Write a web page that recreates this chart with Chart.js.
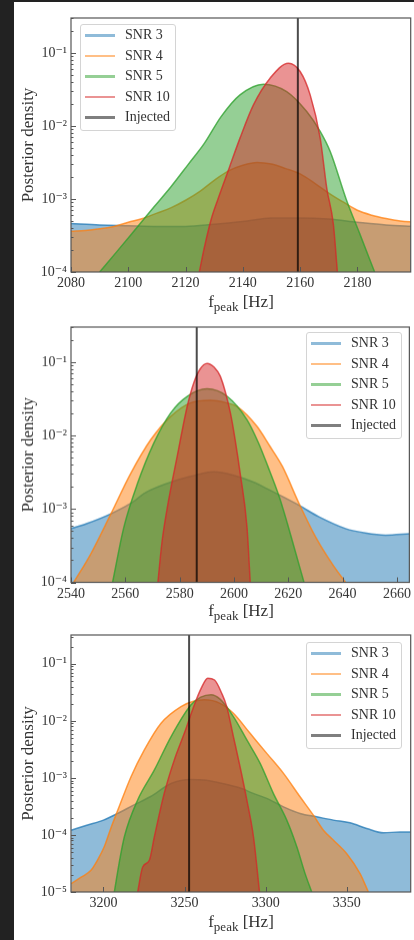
<!DOCTYPE html>
<html>
<head>
<meta charset="utf-8">
<script src="https://cdn.jsdelivr.net/npm/chart.js@4.4.1/dist/chart.umd.min.js"></script>
<style>
    body { margin: 0; width: 414px; height: 940px; overflow: hidden; background: #222; position: relative;
           font-family: 'Liberation Serif', 'DejaVu Serif', serif; }
    #fig { position: absolute; left: 14px; top: 2px; width: 400px; height: 938px; background: #fff; }
    .panel { position: absolute; left: 0; width: 400px; }
    .legend { position: absolute; width: 96px; height: 107px; border: 1px solid #d4d4d4; border-radius: 3px;
              background: rgba(255,255,255,0.8); box-sizing: border-box; }
    .legend .row { position: absolute; left: 0; height: 20px; line-height: 20px; font-size: 14px; color: #333; white-space: nowrap; }
    .legend .row i { position: absolute; left: 4px; top: 9px; width: 30px; height: 2.5px; }
    .legend .row span { position: absolute; left: 44px; }
    .xlabel { position: absolute; left: 57px; width: 340px; height: 20px; line-height: 20px; text-align: center;
              font-size: 17px; color: #333; }
    .xlabel sub { font-size: 13px; vertical-align: -4px; line-height: 0; }
</style>
</head>
<body>
<div id="fig"></div>
<script>
// ---- Datos: densidad posterior de f_peak para cada SNR ([Hz, densidad]) ----

// Panel 1
const p1Snr3 = [[2080,4.6e-4],[2090,4.4e-4],[2100,4.3e-4],[2110,4.2e-4],[2120,4.2e-4],[2130,4.5e-4],[2140,4.9e-4],
    [2150,5.5e-4],[2160,5.5e-4],[2170,5.3e-4],[2180,4.8e-4],[2190,4.4e-4],[2200,4.2e-4]];
const p1Snr4 = [[2080,3.6e-4],[2085,3.7e-4],[2090,3.9e-4],[2095,4.2e-4],[2100,4.8e-4],[2105,5.4e-4],[2110,6.4e-4],
    [2115,7.6e-4],[2120,9.6e-4],[2125,1.27e-3],[2130,1.8e-3],[2135,2.42e-3],[2140,2.89e-3],[2145,3.15e-3],
    [2150,3.0e-3],[2155,2.6e-3],[2160,2.2e-3],[2165,1.65e-3],[2170,1.2e-3],[2175,9.1e-4],[2180,7.0e-4],
    [2185,6.0e-4],[2190,5.4e-4],[2195,5.0e-4],[2200,4.8e-4]];
const p1Snr5 = [[2090,1e-4],[2096,1.9e-4],[2103.3,4.2e-4],[2109,7.8e-4],[2114.9,1.47e-3],[2121,3.0e-3],[2126.6,5.8e-3],
    [2132.4,1.34e-2],[2139,2.66e-2],[2147.2,3.73e-2],[2155.3,2.95e-2],[2162.3,1.57e-2],[2167,8.4e-3],
    [2170.5,4.45e-3],[2176.2,9.6e-4],[2180.8,3.35e-4],[2186,1e-4]];
const p1Snr10 = [[2124.8,1e-4],[2126.6,2.2e-4],[2128.9,5.2e-4],[2131.2,9.7e-4],[2135.3,2.7e-3],[2139,6.8e-3],
    [2143.7,1.94e-2],[2149.5,4.5e-2],[2155.9,7.2e-2],[2160,5.55e-2],[2163.5,2.66e-2],[2167,6.8e-3],
    [2169.3,1.4e-3],[2171.6,4.5e-4],[2173,1e-4]];
const p1Injected = 2159.2;
const p1XRange = [2080, 2198.6];
const p1YRange = [1e-4, 0.3];

// Panel 2
const p2Snr3 = [[2540,5.4e-4],[2545.7,6.3e-4],[2554.7,8.6e-4],[2562.9,1.25e-3],[2566.9,1.63e-3],[2579.1,2.47e-3],
    [2586.1,2.9e-3],[2592.5,3.2e-3],[2599.5,2.9e-3],[2606.9,2.34e-3],[2613.3,1.8e-3],[2624,1.12e-3],
    [2631.3,7.8e-4],[2641.1,5.4e-4],[2648.4,4.7e-4],[2655.8,4.4e-4],[2664.6,4.6e-4]];
const p2Snr4 = [[2541,1e-4],[2547.3,2.45e-4],[2554.7,8.6e-4],[2562,3.05e-3],[2569.3,8.7e-3],[2576.7,1.82e-2],
    [2584,2.78e-2],[2591.3,3.01e-2],[2597,2.8e-2],[2601.1,2.49e-2],[2608.5,1.33e-2],[2613.3,7.1e-3],
    [2617.9,3.76e-3],[2624,1.18e-3],[2630.1,4.13e-4],[2636.2,1.78e-4],[2641.1,1e-4]];
const p2Snr5 = [[2555.3,1e-4],[2559.5,5.7e-4],[2564.5,2.23e-3],[2570.5,7.9e-3],[2576.7,2.03e-2],[2582.8,3.42e-2],
    [2590.1,4.32e-2],[2597.5,3.42e-2],[2604.8,1.64e-2],[2609,8.0e-3],[2612.5,3.8e-3],[2616.7,1.46e-3],
    [2619.7,6.3e-4],[2622.5,2.72e-4],[2625.8,1e-4]];
const p2Snr10 = [[2572,1e-4],[2573.5,3.5e-4],[2575.5,1.06e-3],[2579.1,5.2e-3],[2582.8,2.5e-2],[2585.2,5.2e-2],
    [2587.5,8.0e-2],[2590.1,9.6e-2],[2592.7,8.5e-2],[2595,6.4e-2],[2598.7,2.03e-2],[2600.5,8.5e-3],
    [2602.3,3.05e-3],[2604.8,5.7e-4],[2606,1e-4]];
const p2Injected = 2586.3;
const p2XRange = [2540, 2664.6];
const p2YRange = [1e-4, 0.3];

// Panel 3
const p3Snr3 = [[3180.1,1.21e-4],[3189.7,1.48e-4],[3200,1.82e-4],[3208.8,2.39e-4],[3218.5,3.33e-4],[3228.8,4.67e-4],
    [3241.7,8.0e-4],[3254,9.4e-4],[3262,9.2e-4],[3270,8.4e-4],[3284.8,6.6e-4],[3292,5.4e-4],
    [3300.7,4.37e-4],[3311,3.11e-4],[3321.2,2.38e-4],[3331.5,2.08e-4],[3341.8,1.82e-4],[3352,1.63e-4],
    [3362.3,1.3e-4],[3372.6,1.09e-4],[3382.9,1.13e-4],[3389.4,1.13e-4]];
const p3Snr4 = [[3180.1,1.4e-5],[3186,1.8e-5],[3192.3,2.4e-5],[3196.5,3.7e-5],[3200.5,6.2e-5],[3204.5,1.3e-4],
    [3208.8,2.7e-4],[3217,1.05e-3],[3225.2,3.1e-3],[3235.5,9.1e-3],[3247.8,1.78e-2],[3255.5,2.2e-2],
    [3262.2,2.34e-2],[3271.9,2.03e-2],[3280.1,1.36e-2],[3290.4,6.05e-3],[3300.7,2.69e-3],[3311,1.2e-3],
    [3321.2,4.67e-4],[3329.4,2.22e-4],[3335.6,1.21e-4],[3341.8,8.1e-5],[3350,4.7e-5],[3358.2,2.1e-5],[3363.3,1e-5]];
const p3Snr5 = [[3206.7,1e-5],[3209.5,3e-5],[3212.9,9.3e-5],[3221.1,4.1e-4],[3231.4,1.38e-3],[3241.7,5.3e-3],
    [3254,1.91e-2],[3260,2.6e-2],[3266.3,2.87e-2],[3271.9,2.4e-2],[3280.1,1.19e-2],[3288.4,4.62e-3],
    [3296.6,1.8e-3],[3304.8,5.3e-4],[3313,1.82e-4],[3319.2,6.2e-5],[3324.3,2.1e-5],[3328.4,1e-5]];
const p3Snr10 = [[3221.1,1e-5],[3224.2,2.75e-5],[3228.3,3.6e-5],[3231.4,9.3e-5],[3237.5,5.4e-4],[3243.7,2.07e-3],
    [3249.9,6.1e-3],[3256,1.9e-2],[3260,3.6e-2],[3264.3,5.6e-2],[3268.5,5.2e-2],[3272.9,3.05e-2],
    [3276,1.78e-2],[3280.1,5.3e-3],[3284.2,1.57e-3],[3288.4,4.08e-4],[3292.5,9.2e-5],[3296.2,1e-5]];
const p3Injected = 3252.8;
const p3XRange = [3180, 3389.4];
const p3YRange = [1e-5, 0.32];

const xSteps = [20, 20, 50];
const snrLabels = ['SNR 3', 'SNR 4', 'SNR 5', 'SNR 10'];
const injectedLabel = 'Injected';

// ---- Estilo y maquetación ----
const snrColors = [[31,119,180], [255,127,14], [44,160,44], [214,39,40]];
const panelTops = [0, 309, 617];          // dentro de #fig
const plotHeights = [254, 254.5, 257];
const legendPos = [[66, 22], [292, 330], [292, 640]];
const PAD_TOP = 16, Y_AXIS_W = 57, X_AXIS_H = 40, PAD_RIGHT = 3.3;

const rgba = (c, a) => `rgba(${c[0]},${c[1]},${c[2]},${a})`;
const SUP = {'-': '⁻', '0': '⁰', '1': '¹', '2': '²', '3': '³', '4': '⁴', '5': '⁵', '6': '⁶', '7': '⁷', '8': '⁸', '9': '⁹'};

function potencia(v) {
    const e = Math.log10(v);
    return Math.abs(e - Math.round(e)) < 1e-6 ? Math.round(e) : null;
}

function mantisaEntera(v) {
    const m = v / Math.pow(10, Math.floor(Math.log10(v) + 1e-9));
    return Math.abs(m - Math.round(m)) < 0.01;
}

Chart.defaults.font.family = "'Liberation Serif', 'DejaVu Serif', serif";
Chart.defaults.color = '#333';

// Marco y ticks hacia dentro, estilo matplotlib
const marcoTicks = {
    id: 'marcoTicks',
    afterDraw(chart) {
        const {ctx, chartArea: a, scales: {x, y}} = chart;
        ctx.save();
        ctx.strokeStyle = '#555';
        ctx.lineWidth = 1;
        ctx.beginPath();
        y.ticks.forEach(t => {
            if (!mantisaEntera(t.value)) return;
            const py = Math.round(y.getPixelForValue(t.value)) + 0.5;
            const len = potencia(t.value) !== null ? 5 : 2.5;
            ctx.moveTo(a.left, py);
            ctx.lineTo(a.left + len, py);
        });
        x.ticks.forEach(t => {
            const px = Math.round(x.getPixelForValue(t.value)) + 0.5;
            ctx.moveTo(px, a.bottom);
            ctx.lineTo(px, a.bottom - 5);
        });
        ctx.stroke();
        ctx.lineWidth = 1.2;
        ctx.strokeRect(a.left, a.top, a.right - a.left, a.bottom - a.top);
        ctx.restore();
    }
};

const paneles = [
    {series: [p1Snr3, p1Snr4, p1Snr5, p1Snr10], injected: p1Injected, xr: p1XRange, yr: p1YRange},
    {series: [p2Snr3, p2Snr4, p2Snr5, p2Snr10], injected: p2Injected, xr: p2XRange, yr: p2YRange},
    {series: [p3Snr3, p3Snr4, p3Snr5, p3Snr10], injected: p3Injected, xr: p3XRange, yr: p3YRange}
];

const fig = document.getElementById('fig');

paneles.forEach((p, k) => {
    const alto = PAD_TOP + plotHeights[k] + X_AXIS_H;
    const wrap = document.createElement('div');
    wrap.className = 'panel';
    wrap.style.top = panelTops[k] + 'px';
    wrap.style.height = alto + 'px';
    const canvas = document.createElement('canvas');
    wrap.appendChild(canvas);
    fig.appendChild(wrap);

    const datasets = p.series.map((pts, i) => ({
        label: snrLabels[i],
        data: pts.map(d => ({x: d[0], y: d[1]})),
        borderColor: rgba(snrColors[i], 0.75),
        backgroundColor: rgba(snrColors[i], 0.5),
        borderWidth: 1.5,
        fill: 'start',
        pointRadius: 0,
        cubicInterpolationMode: 'monotone',
        order: 4 - i
    }));
    datasets.push({
        label: injectedLabel,
        data: [{x: p.injected, y: p.yr[0]}, {x: p.injected, y: p.yr[1]}],
        borderColor: 'rgba(0,0,0,0.7)',
        borderWidth: 2,
        pointRadius: 0,
        fill: false,
        order: 0
    });

    new Chart(canvas, {
        type: 'line',
        data: {datasets},
        plugins: [marcoTicks],
        options: {
            responsive: true,
            maintainAspectRatio: false,
            animation: false,
            layout: {padding: {top: PAD_TOP, right: PAD_RIGHT, left: 0, bottom: 0}},
            plugins: {legend: {display: false}, tooltip: {enabled: false}},
            scales: {
                x: {
                    type: 'linear',
                    min: p.xr[0],
                    max: p.xr[1],
                    grid: {display: false, drawTicks: false},
                    border: {display: false},
                    ticks: {stepSize: xSteps[k], includeBounds: false, autoSkip: false, maxRotation: 0,
                            padding: 3, font: {size: 14}, color: '#333',
                            callback: v => String(v)},
                    afterFit: s => { s.height = X_AXIS_H; }
                },
                y: {
                    type: 'logarithmic',
                    min: p.yr[0],
                    max: p.yr[1],
                    grid: {display: false, drawTicks: false},
                    border: {display: false},
                    ticks: {
                        autoSkip: false,
                        padding: 4,
                        font: {size: 14},
                        color: '#333',
                        callback: v => {
                            const e = potencia(v);
                            return e === null ? '' : '10' + String(e).split('').map(c => SUP[c]).join('');
                        }
                    },
                    title: {display: true, text: 'Posterior density', font: {size: 17}, color: '#333',
                            padding: {top: 4.8, bottom: 0}},
                    afterFit: s => { s.width = Y_AXIS_W; }
                }
            }
        }
    });

    // Leyenda (HTML) dentro del área del gráfico
    const leg = document.createElement('div');
    leg.className = 'legend';
    leg.style.left = legendPos[k][0] + 'px';
    leg.style.top = legendPos[k][1] + 'px';
    const filas = snrLabels.map((l, i) => [l, rgba(snrColors[i], 0.5)]).concat([[injectedLabel, 'rgba(0,0,0,0.5)']]);
    filas.forEach((f, i) => {
        const row = document.createElement('div');
        row.className = 'row';
        row.style.top = (i * 20.5) + 'px';
        row.innerHTML = `<i style="background:${f[1]}"></i><span>${f[0]}</span>`;
        leg.appendChild(row);
    });
    fig.appendChild(leg);

    // Etiqueta del eje x con subíndice
    const xl = document.createElement('div');
    xl.className = 'xlabel';
    xl.style.top = (panelTops[k] + PAD_TOP + plotHeights[k] + 19.5) + 'px';
    xl.innerHTML = 'f<sub>peak</sub> [Hz]';
    fig.appendChild(xl);
});
</script>
</body>
</html>
